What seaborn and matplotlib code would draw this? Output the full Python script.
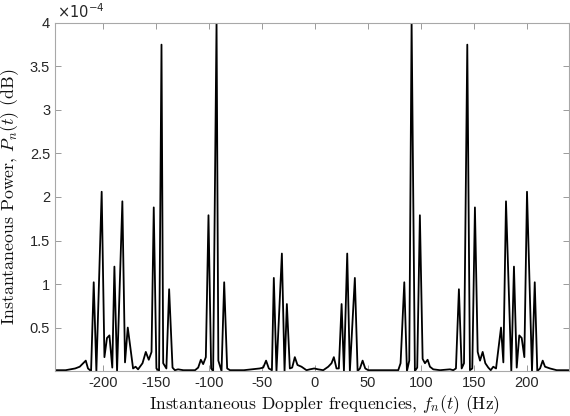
import numpy as np
import matplotlib
matplotlib.use("Agg")
import matplotlib.pyplot as plt
import seaborn as sns

# Doppler frequency (Hz)
freq_hz = [-245, -235, -226, -221.7, -216, -213.9, -211, -208.5, -206, -201,
           -198.4, -196, -193.7, -191, -189, -186.5, -181.5, -179, -176.4, -171.4,
           -169, -166.7, -162.5, -159.4, -156.6, -154, -151.9, -149.4, -146.9, -144.6,
           -143, -140, -137.4, -134.2, -132, -129, -124, -113, -110, -107.5,
           -105.3, -102.8, -100.3, -97.8, -95.9, -92.7, -91, -88, -85.5, -82.7,
           -80, -67, -52, -48.7, -46, -43.4, -40.5, -38.7, -36.2, -31.1,
           -28.6, -26.4, -23.6, -21.4, -18.9, -16.4, -12.6, -7.9, -4.7, -0.6,
           3.1, 7.9, 12.6, 15.7, 17.9, 20.4, 22.6, 25.2, 27.4, 30.5,
           33, 37.7, 40.3, 42.5, 45, 47.5, 50.3, 55, 78.6, 80.8,
           84.3, 86.8, 89, 91.2, 94.3, 96.5, 99, 101.6, 103.8, 106.3,
           108.5, 111.6, 118, 127.4, 130.5, 133, 135.8, 138.4, 140.6, 143.7,
           146.2, 148.4, 150.9, 153.5, 155.7, 158.2, 160.7, 163.5, 165.8, 168.2,
           170.8, 175.5, 177.7, 180.2, 185.2, 187.7, 190.3, 192.7, 195, 197.5,
           200, 204.7, 207.3, 209.7, 212.3, 214.8, 217, 221.7, 228, 240]

# Instantaneous power (in units of 1e-4)
power_e4 = [0.01, 0.01, 0.03, 0.05, 0.12, 0.03, 0.0, 1.02, 0.0, 2.06,
            0.16, 0.38, 0.41, 0.04, 1.2, 0.0, 1.95, 0.1, 0.5, 0.03,
            0.05, 0.02, 0.09, 0.22, 0.13, 0.22, 1.88, 0.03, 0.0, 3.75,
            0.09, 0.03, 0.94, 0.04, 0.01, 0.02, 0.01, 0.01, 0.04, 0.13,
            0.08, 0.16, 1.79, 0.03, 0.0, 4.02, 0.12, 0.0, 1.02, 0.03,
            0.01, 0.01, 0.03, 0.04, 0.12, 0.03, 0.01, 1.07, 0.0, 1.35,
            0.0, 0.77, 0.03, 0.04, 0.16, 0.07, 0.05, 0.01, 0.02, 0.03,
            0.02, 0.01, 0.05, 0.09, 0.16, 0.03, 0.03, 0.77, 0.0, 1.35,
            0.0, 1.07, 0.0, 0.03, 0.12, 0.03, 0.01, 0.01, 0.01, 0.09,
            1.02, 0.0, 0.12, 4.02, 0.0, 0.04, 1.79, 0.14, 0.09, 0.13,
            0.05, 0.02, 0.01, 0.02, 0.01, 0.03, 0.94, 0.03, 0.09, 3.75,
            0.01, 0.03, 1.88, 0.22, 0.12, 0.22, 0.09, 0.04, 0.01, 0.05,
            0.03, 0.5, 0.1, 1.95, 0.0, 1.2, 0.04, 0.41, 0.38, 0.16,
            2.06, 0.0, 1.02, 0.0, 0.03, 0.12, 0.05, 0.03, 0.01, 0.01]

x_ticks = [-200, -150, -100, -50, 0, 50, 100, 150, 200]
y_ticks = [0.5, 1, 1.5, 2, 2.5, 3, 3.5, 4]
y_tick_labels = ['0.5', '1', '1.5', '2', '2.5', '3', '3.5', '4']
x_tick_labels = ['-200', '-150', '-100', '-50', '0', '50', '100', '150', '200']

sns.set_theme(style="white")
plt.rcParams['font.family'] = ['Liberation Sans', 'DejaVu Sans']
plt.rcParams['mathtext.fontset'] = 'cm'
plt.rcParams['axes.unicode_minus'] = False

fig = plt.figure(figsize=(5.7, 4.16), dpi=100)
ax = fig.add_axes([0.0965, 0.108, 0.9025, 0.837])

power = np.array(power_e4) * 1e-4
sns.lineplot(x=freq_hz, y=power, ax=ax, color='black', linewidth=1.3,
             estimator=None, sort=False)

ax.set_xlim(-245, 240)
ax.set_ylim(0, 4e-4)
ax.set_xticks(x_ticks)
ax.set_xticklabels(x_tick_labels)
ax.set_yticks([v * 1e-4 for v in y_ticks])
ax.set_yticklabels(y_tick_labels)

ax.text(0.003, 1.004, r'$\times10^{-4}$', transform=ax.transAxes,
        fontsize=10.5, color='#262626', ha='left', va='bottom',
        math_fontfamily='dejavusans')

ax.tick_params(axis='both', which='both', direction='in', length=4, width=0.7,
               colors='#9a9a9a', labelcolor='#262626', labelsize=10.5,
               top=True, right=True, bottom=True, left=True)
for s in ax.spines.values():
    s.set_visible(True)
    s.set_color('#a8a8a8')
    s.set_linewidth(0.8)

ax.set_xlabel('Instantaneous Doppler frequencies, $f_n(t)$ (Hz)',
              fontsize=12.6, color='#111111', family='cmr10')
ax.xaxis.set_label_coords(0.524, -0.063, transform=ax.transAxes)
ax.xaxis.label.set_va('top')
ax.set_ylabel('Instantaneous Power, $P_n(t)$ (dB)',
              fontsize=12.8, labelpad=6, color='#111111', family='cmr10')

fig.savefig('out.png', dpi=100)
